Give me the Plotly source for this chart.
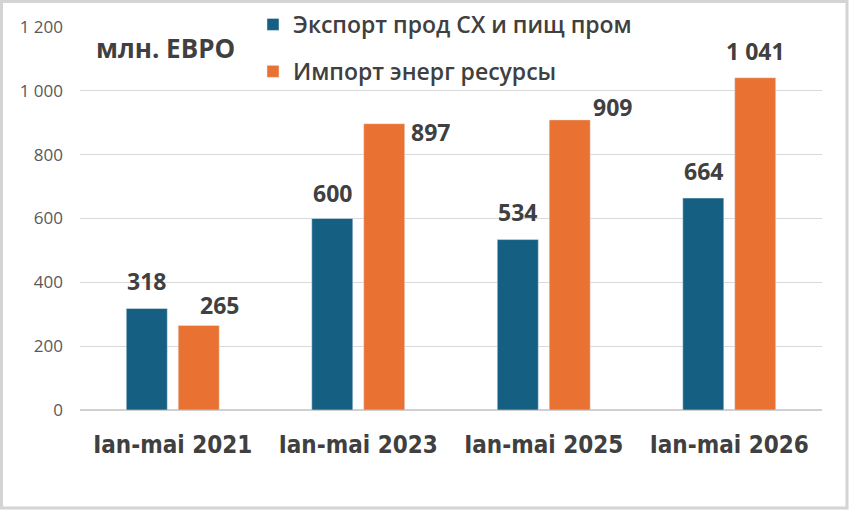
import plotly.graph_objects as go

categories = ["Ian-mai 2021", "Ian-mai 2023", "Ian-mai 2025", "Ian-mai 2026"]
export_vals = [318, 600, 534, 664]
import_vals = [265, 897, 909, 1041]
export_name = "Экспорт прод СХ и пищ пром"
import_name = "Импорт энерг ресурсы"
y_ticks = [0, 200, 400, 600, 800, 1000, 1200]

# label pixel offsets (xshift, yshift) relative to bar centre / bar top
export_label_shift = [(0, 28), (0, 26), (0, 28), (0, 27)]
import_label_shift = [(21, 20), (46, -8), (43, 13), (0, 27)]

BLUE = "#156082"
ORANGE = "#E97132"
TXT = "#404040"

xs = list(range(len(categories)))

fig = go.Figure()
fig.add_trace(go.Bar(x=xs, y=export_vals, name=export_name, marker_color=BLUE,
                     offsetgroup="a", legendgroup="a"))
fig.add_trace(go.Bar(x=xs, y=import_vals, name=import_name, marker_color=ORANGE,
                     offsetgroup="b", legendgroup="b"))

def fmt(v):
    return f"{v:,}".replace(",", " ")

LABEL_FONT = dict(family="Open Sans, Liberation Sans", size=23, color=TXT, weight="bold")
ann = []
for i, v in enumerate(export_vals):
    dx, dy = export_label_shift[i]
    ann.append(dict(x=i, y=v, xref="x", yref="y", text=fmt(v), showarrow=False,
                    xanchor="center", yanchor="middle",
                    xshift=-26 + dx, yshift=dy, font=LABEL_FONT))
for i, v in enumerate(import_vals):
    dx, dy = import_label_shift[i]
    ann.append(dict(x=i, y=v, xref="x", yref="y", text=fmt(v), showarrow=False,
                    xanchor="center", yanchor="middle",
                    xshift=26 + dx, yshift=dy, font=LABEL_FONT))

L, R, T, B = 80, 28, 4, 104
W, H = 850, 514
pw, ph = W - L - R, H - T - B
plot_top_px = 27
dom_top = 1 - (plot_top_px - T) / ph

def px(xp):
    return (xp - L) / pw

def py(yp):
    return 1 - (yp - T) / ph

ann.append(dict(x=px(94), y=py(48), xref="paper", yref="paper", xanchor="left", yanchor="middle",
                text="млн. ЕВРО", showarrow=False,
                font=dict(family="Open Sans, Liberation Sans", size=26, color=TXT, weight="bold")))

fig.update_layout(
    width=W, height=H,
    margin=dict(l=L, r=R, t=T, b=B, autoexpand=False),
    paper_bgcolor="white", plot_bgcolor="white",
    bargap=0.44, bargroupgap=0.21,
    separators=". ",
    showlegend=True,
    legend=dict(x=px(253), y=py(3), xanchor="left", yanchor="top",
                bgcolor="rgba(0,0,0,0)", tracegroupgap=14,
                font=dict(family="Open Sans, Liberation Sans", size=23, color=TXT, weight=600),
                itemwidth=30, traceorder="grouped"),
    annotations=ann,
    xaxis=dict(tickvals=xs, ticktext=categories, range=[-0.5, len(categories) - 0.5],
               showgrid=False, showline=False, ticks="", ticklabelstandoff=18,
               tickfont=dict(family="Liberation Sans Narrow, DejaVu Sans Condensed, Arial", size=24, color=TXT, weight="bold")),
    yaxis=dict(range=[0, 1200], tickvals=y_ticks, tickformat=",d", domain=[0, dom_top],
               gridcolor="#d9d9d9", gridwidth=1, zeroline=True, zerolinecolor="#d0d0d0", zerolinewidth=1.5,
               showline=False, ticks="", ticklabelstandoff=16,
               tickfont=dict(family="Open Sans, Liberation Sans", size=17, color="#595959")),
    shapes=[dict(type="rect", xref="paper", yref="paper",
                 x0=px(1.5), x1=px(847), y0=py(508), y1=py(1.5),
                 line=dict(color="#d4d4d4", width=3), layer="below")],
)

fig.write_html("out.html")
